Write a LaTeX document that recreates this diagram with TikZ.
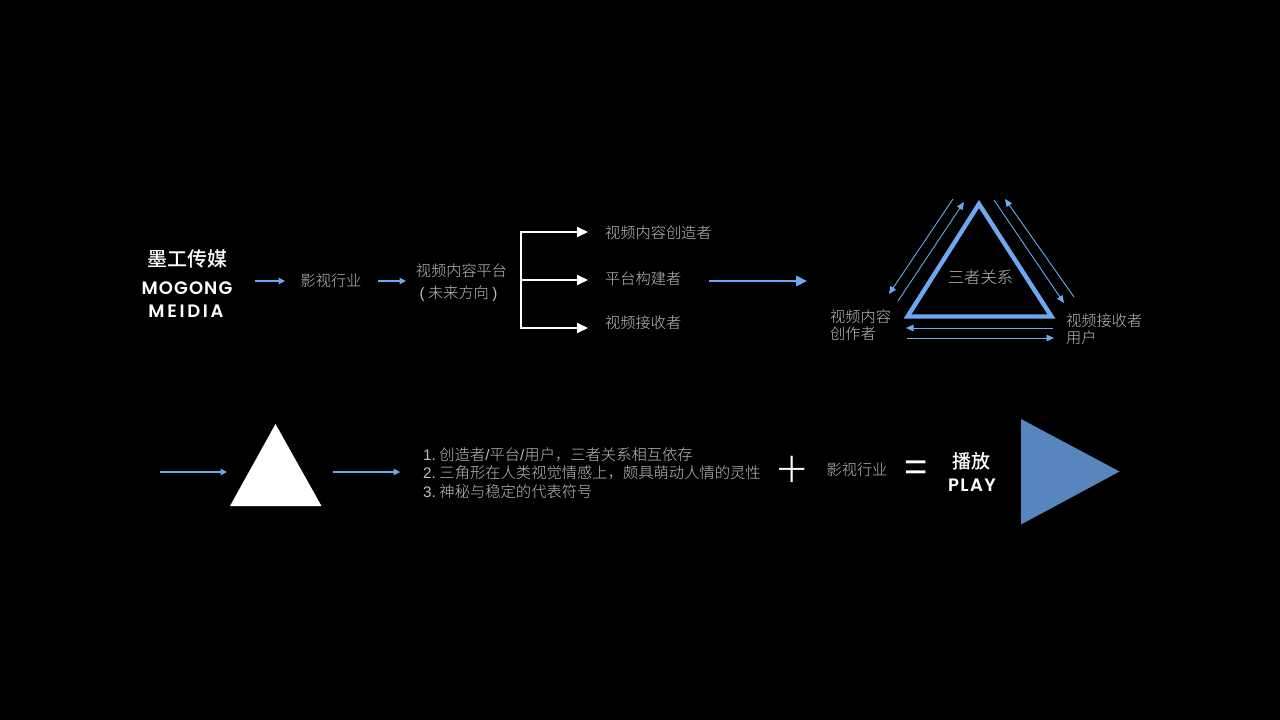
\documentclass[tikz,border=0pt]{standalone}
\usepackage{fontspec}
\setmainfont{Noto Sans CJK SC Light}
\newfontfamily\latinfont{Liberation Sans}
\newfontfamily\cjkmedium{Noto Sans CJK SC Medium}
\newfontfamily\thinsign{Lato Light}
\newfontfamily\brandA{Poppins SemiBold}[LetterSpace=6]
\newfontfamily\brandB{Poppins SemiBold}[LetterSpace=15]
\newfontfamily\brandC{Poppins SemiBold}[LetterSpace=8]
\usetikzlibrary{arrows.meta}
\definecolor{skyblue}{HTML}{6EA8F0}
\definecolor{softgray}{HTML}{BEBEBE}
\definecolor{playblue}{HTML}{5786BF}
\newcommand{\slashmark}{{\latinfont /}}
\tikzset{
  txt/.style={text=softgray,inner sep=0pt,font=\fontsize{15.2}{18}\selectfont},
  txtl/.style={txt,anchor=west},
  listl/.style={text=softgray,inner sep=0pt,anchor=west,font=\fontsize{15.3}{18}\selectfont},
  brandcn/.style={text=white,inner sep=0pt,font=\fontsize{20}{24}\cjkmedium},
  branden/.style={text=white,inner sep=0pt},
  thinarrow/.style={draw=skyblue,line width=0.9pt,-{Triangle[length=7.5pt,width=6.5pt]}},
  medarrow/.style={draw=skyblue,line width=1.2pt,-{Triangle[length=6.5pt,width=6.5pt]}},
  whitearrow/.style={draw=white,line width=1.8pt,-{Triangle[length=11pt,width=10pt]}},
  bigarrow/.style={draw=skyblue,line width=2.4pt,-{Triangle[length=11pt,width=10.5pt]}}
}
\begin{document}
\begin{tikzpicture}[x=1pt,y=-1pt]
\fill[black] (0,0) rectangle (1280,720);
\useasboundingbox (0,0) rectangle (1280,720);
% top row text
\node[brandcn] (mg) at (187,258.5) {墨工传媒};
\node[branden,font=\fontsize{18}{20}\brandA] (mgen1) at (187,288) {MOGONG};
\node[branden,font=\fontsize{18}{20}\brandB] (mgen2) at (186,311.5) {MEIDIA};
\node[txt] (yy) at (331,281) {影视行业};
\node[txt] (plat) at (461.5,270.5) {视频内容平台};
\node[txt] (fut) at (458.5,293.5) {{\latinfont (\kern3.5pt}未来方向{\latinfont \kern3.5pt)}};
\node[txtl] (cre) at (605,233) {视频内容创造者};
\node[txtl] (bld) at (605,278.5) {平台构建者};
\node[txtl] (rcv) at (605,323) {视频接收者};
% arrows top-left
\coordinate (a1s) at (255,281); \coordinate (a1e) at (285,281);
\coordinate (a2s) at (378,281); \coordinate (a2e) at (406,281);
\draw[medarrow] (a1s) -- (a1e);
\draw[medarrow] (a2s) -- (a2e);
% bracket
\coordinate (bt) at (521,232); \coordinate (bm) at (521,280); \coordinate (bb) at (521,328);
\coordinate (bte) at (588,232); \coordinate (bme) at (588,280); \coordinate (bbe) at (588,328);
\draw[draw=white,line width=1.8pt,line cap=rect] (bt) -- (bb);
\draw[whitearrow] (bt) -- (bte);
\draw[whitearrow] (bm) -- (bme);
\draw[whitearrow] (bb) -- (bbe);
% big arrow
\coordinate (bas) at (709,281); \coordinate (bae) at (807,281);
\draw[bigarrow] (bas) -- (bae);
% blue outline triangle
\coordinate (ta) at (979,204); \coordinate (tl) at (907.5,316.5); \coordinate (tr) at (1051.5,316.5);
\draw[draw=skyblue,line width=4.4pt,line join=miter] (ta) -- (tl) -- (tr) -- cycle;
\node[txt,font=\fontsize{16.3}{18}\selectfont] (rel) at (980.5,277.5) {三者关系};
\node[txtl] (l1) at (830,316.5) {视频内容};
\node[txtl] (l2) at (830,333.5) {创作者};
\node[txtl] (r1) at (1066,320.5) {视频接收者};
\node[txtl] (r2) at (1066,337.5) {用户};
% thin arrows around triangle
\coordinate (p1s) at (953,199); \coordinate (p1e) at (889,294);
\coordinate (p2s) at (898,301); \coordinate (p2e) at (964,202);
\coordinate (p3s) at (994,200); \coordinate (p3e) at (1064,303);
\coordinate (p4s) at (1074,297); \coordinate (p4e) at (1005,199);
\coordinate (p5s) at (1053,328); \coordinate (p5e) at (906,328);
\coordinate (p6s) at (907,338); \coordinate (p6e) at (1054,338);
\draw[thinarrow] (p1s) -- (p1e);
\draw[thinarrow] (p2s) -- (p2e);
\draw[thinarrow] (p3s) -- (p3e);
\draw[thinarrow] (p4s) -- (p4e);
\draw[thinarrow] (p5s) -- (p5e);
\draw[thinarrow] (p6s) -- (p6e);
% bottom row
\coordinate (b1s) at (160,472); \coordinate (b1e) at (227,472);
\coordinate (b2s) at (333,472); \coordinate (b2e) at (400,472);
\draw[medarrow] (b1s) -- (b1e);
\draw[medarrow] (b2s) -- (b2e);
\fill[white] (275.5,424) -- (321.5,506) -- (230,506) -- cycle;
\node[listl] (li1) at (423,454.5) {{\latinfont 1.\kern3.5pt}创造者\slashmark 平台\slashmark 用户，三者关系相互依存};
\node[listl] (li2) at (423,472.5) {{\latinfont 2.\kern3.5pt}三角形在人类视觉情感上，颇具萌动人情的灵性};
\node[listl] (li3) at (423,491.5) {{\latinfont 3.\kern3.5pt}神秘与稳定的代表符号};
\node[text=white,inner sep=0pt,font=\fontsize{54}{54}\thinsign] (plus) at (792,471.5) {+};
\node[txt] (yy2) at (857,470) {影视行业};
\node[text=white,inner sep=0pt,font=\fontsize{40}{40}\latinfont] (eq) at (916,470.5) {=};
\node[text=white,inner sep=0pt,font=\fontsize{19}{22}\cjkmedium] (bf) at (971,461) {播放};
\node[branden,font=\fontsize{18}{20}\brandC] (play) at (972,485) {PLAY};
\fill[playblue] (1021,419) -- (1119.5,471.5) -- (1021,524.5) -- cycle;
\end{tikzpicture}
\end{document}
